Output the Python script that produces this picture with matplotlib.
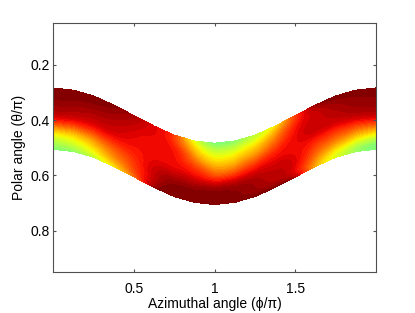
import numpy as np
import matplotlib
matplotlib.use("Agg")
import matplotlib.pyplot as plt
import matplotlib.tri as mtri

phi = [0.0, 0.125, 0.25, 0.375, 0.5, 0.625, 0.75, 0.875, 1.0,
       1.125, 1.25, 1.375, 1.5, 1.625, 1.75, 1.875, 2.0]

# upper and lower edge of the band (theta/pi)
theta_top = [0.284, 0.292, 0.313, 0.346, 0.384, 0.422, 0.455, 0.476, 0.484,
             0.476, 0.455, 0.422, 0.384, 0.346, 0.313, 0.292, 0.284]
theta_bot = [0.506, 0.514, 0.535, 0.568, 0.606, 0.644, 0.677, 0.698, 0.706,
             0.698, 0.677, 0.644, 0.606, 0.568, 0.535, 0.514, 0.506]

# relative position across the band (0 = upper edge, 1 = lower edge)
across = [0.0, 0.25, 0.5, 0.75, 1.0]

# field value (jet colour scale) at each phi, from upper to lower edge
field = [
    [1.00, 0.975, 0.89, 0.64, 0.50],
    [1.00, 0.97, 0.89, 0.67, 0.52],
    [1.00, 0.96, 0.89, 0.72, 0.58],
    [0.99, 0.95, 0.90, 0.79, 0.66],
    [0.96, 0.92, 0.89, 0.85, 0.78],
    [0.91, 0.90, 0.90, 0.93, 0.97],
    [0.84, 0.88, 0.90, 0.97, 1.00],
    [0.62, 0.75, 0.87, 0.97, 1.00],
    [0.50, 0.65, 0.80, 0.97, 1.00],
    [0.52, 0.66, 0.81, 0.97, 1.00],
    [0.58, 0.71, 0.86, 0.96, 1.00],
    [0.66, 0.79, 0.89, 0.94, 0.99],
    [0.84, 0.89, 0.90, 0.91, 0.95],
    [0.97, 0.93, 0.90, 0.81, 0.72],
    [1.00, 0.95, 0.89, 0.75, 0.62],
    [1.00, 0.97, 0.89, 0.69, 0.54],
    [1.00, 0.975, 0.89, 0.64, 0.50],
]

# triangulate in (phi, across) space, scaled to roughly the on-screen aspect,
# let matplotlib refine it smoothly, then map back onto the band
ph = np.array(phi)
ac = np.array(across)
PP, AA = np.meshgrid(ph, ac, indexing='ij')
aspect = 0.38
tri = mtri.Triangulation(PP.ravel(), AA.ravel() * aspect)
refiner = mtri.UniformTriRefiner(tri)
tri_f, val_f = refiner.refine_field(np.array(field).ravel(), subdiv=4)

xf = tri_f.x
sf = np.clip(tri_f.y / aspect, 0, 1)
top_f = np.interp(xf, ph, theta_top)
bot_f = np.interp(xf, ph, theta_bot)
yf = top_f + (bot_f - top_f) * sf
band = mtri.Triangulation(xf, yf, triangles=tri_f.triangles)

plt.rcParams['font.family'] = ['Liberation Sans', 'DejaVu Sans']

fig = plt.figure(figsize=(4.15, 3.13), dpi=100)
ax = fig.add_axes([0.1284, 0.131, 0.7776, 0.7946])

# keep values strictly inside the level range so no triangle drops out
levels = np.linspace(0.5, 1.0, 33)
ax.tricontourf(band, np.clip(val_f, 0.501, 0.999), levels=levels, cmap='jet',
               vmin=0.0, vmax=1.0, antialiased=False)

ax.set_xlim(0, 2)
ax.set_ylim(0.95, 0.05)
ax.set_xticks([0.5, 1, 1.5])
ax.set_xticklabels(['0.5', '1', '1.5'])
ax.set_yticks([0.2, 0.4, 0.6, 0.8])
ax.set_yticklabels(['0.2', '0.4', '0.6', '0.8'])

grey = '#505050'
for s in ax.spines.values():
    s.set_color(grey)
    s.set_linewidth(0.8)
ax.tick_params(direction='in', length=2.5, width=0.8, color=grey,
               labelsize=10, top=True, right=True)
ax.tick_params(axis='x', pad=7)
ax.tick_params(axis='y', pad=2.5)

ax.set_xlabel('Azimuthal angle (\u03d5/\u03c0)', fontsize=10, labelpad=1)
ax.set_ylabel('Polar angle (\u03b8/\u03c0)', fontsize=10, labelpad=3)

fig.savefig('out.png', dpi=100)
